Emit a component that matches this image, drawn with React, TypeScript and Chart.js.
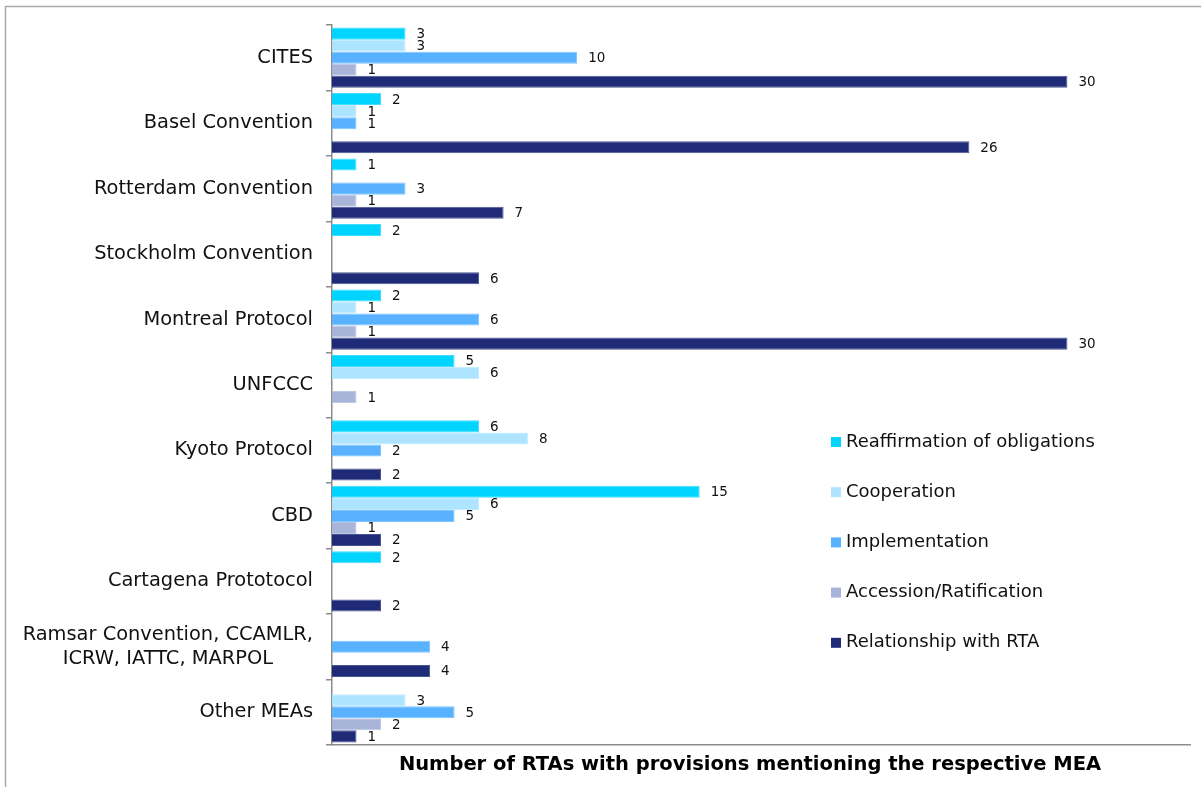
import React, { useEffect, useRef } from "react";
import { Chart, registerables } from "chart.js";

Chart.register(...registerables);

const categories: (string | string[])[] = [
  "CITES",
  "Basel Convention",
  "Rotterdam Convention",
  "Stockholm Convention",
  "Montreal Protocol",
  "UNFCCC",
  "Kyoto Protocol",
  "CBD",
  "Cartagena Prototocol",
  ["Ramsar Convention, CCAMLR,", "ICRW, IATTC, MARPOL"],
  "Other MEAs",
];

const seriesNames = [
  "Reaffirmation of obligations",
  "Cooperation",
  "Implementation",
  "Accession/Ratification",
  "Relationship with RTA",
];

const reaffirmation = [3, 2, 1, 2, 2, 5, 6, 15, 2, null, null];
const cooperation = [3, 1, null, null, 1, 6, 8, 6, null, null, 3];
const implementation = [10, 1, 3, null, 6, null, 2, 5, null, 4, 5];
const accession = [1, null, 1, null, 1, 1, null, 1, null, null, 2];
const relationship = [30, 26, 7, 6, 30, null, 2, 2, 2, 4, 1];

const xMax = 35;
const xTitle = "Number of RTAs with provisions mentioning the respective MEA";

const colors = ["#00D4FF", "#ADE4FF", "#58B2FF", "#A9B4D9", "#202B78"];
const borderColors = ["#3FDDFF", "#C4ECFF", "#7CC3FF", "#BCC5E3", "#4A5596"];

const FONT = "'DejaVu Sans', Verdana, sans-serif";

const customPlugin = {
  id: "customDraw",
  afterDatasetsDraw(chart: any) {
    const ctx = chart.ctx;
    ctx.save();
    ctx.font = `13.5px ${FONT}`;
    ctx.fillStyle = "#111";
    ctx.textAlign = "left";
    ctx.textBaseline = "middle";
    chart.data.datasets.forEach((ds: any, di: number) => {
      const meta = chart.getDatasetMeta(di);
      meta.data.forEach((bar: any, i: number) => {
        const v = ds.data[i];
        if (v == null || v === 0) return;
        ctx.fillText(String(v), bar.x + 11, bar.y + 1);
      });
    });
    ctx.restore();
  },
  afterDraw(chart: any) {
    const ctx = chart.ctx;
    const yScale = chart.scales.y;
    ctx.save();
    // frame
    ctx.strokeStyle = "#aaaaaa";
    ctx.lineWidth = 1.5;
    ctx.beginPath();
    ctx.moveTo(5.5, 787);
    ctx.lineTo(5.5, 6.5);
    ctx.lineTo(1201, 6.5);
    ctx.stroke();

    // category labels
    ctx.font = `19.4px ${FONT}`;
    ctx.fillStyle = "#111";
    ctx.textBaseline = "middle";
    categories.forEach((lab, i) => {
      const y = yScale.getPixelForValue(i);
      const rightX = 313;
      if (Array.isArray(lab)) {
        const widths = lab.map((l) => ctx.measureText(l).width);
        const maxW = Math.max(...widths);
        const cx = rightX - maxW / 2;
        const lh = 24;
        ctx.textAlign = "center";
        lab.forEach((l, k) => {
          ctx.fillText(l, cx, y + (k - (lab.length - 1) / 2) * lh);
        });
      } else {
        ctx.textAlign = "right";
        ctx.fillText(lab, rightX, y);
      }
    });

    // legend
    ctx.font = `18px ${FONT}`;
    ctx.textAlign = "left";
    const legendTop = 442;
    const legendGap = 50.2;
    chart.data.datasets.forEach((ds: any, di: number) => {
      const cy = legendTop + di * legendGap;
      ctx.fillStyle = ds.backgroundColor;
      ctx.fillRect(831, cy - 5, 10, 10);
      ctx.fillStyle = "#111";
      ctx.fillText(ds.label, 846, cy);
    });

    // x title
    ctx.font = `bold 19.5px ${FONT}`;
    ctx.textAlign = "center";
    ctx.fillStyle = "#000";
    ctx.fillText(xTitle, 750, 765);
    ctx.restore();
  },
};

export default function App() {
  const ref = useRef<HTMLCanvasElement | null>(null);
  useEffect(() => {
    if (!ref.current) return;
    const seriesData = [reaffirmation, cooperation, implementation, accession, relationship];
    const chart = new Chart(ref.current, {
      type: "bar",
      data: {
        labels: categories as any,
        datasets: seriesData.map((d, i) => ({
          label: seriesNames[i],
          data: d as any,
          backgroundColor: colors[i],
          borderColor: borderColors[i],
          borderWidth: 1,
          barPercentage: 1.0,
          categoryPercentage: 0.92,
        })),
      },
      options: {
        indexAxis: "y",
        responsive: false,
        animation: false,
        devicePixelRatio: 1,
        layout: { padding: { left: 0, top: 25, right: 11, bottom: 42 } },
        plugins: {
          legend: { display: false },
          tooltip: { enabled: false },
          title: { display: false },
        },
        scales: {
          x: {
            min: 0,
            max: xMax,
            ticks: { display: false },
            grid: { display: false },
            border: { display: true, color: "#8c8c8c", width: 1.5 },
            afterFit: (s: any) => {
              s.height = 0;
            },
          },
          y: {
            ticks: { display: false },
            grid: {
              display: true,
              drawOnChartArea: false,
              drawTicks: true,
              tickLength: 6,
              offset: true,
              color: "#8c8c8c",
              lineWidth: 1.5,
            },
            border: { display: true, color: "#8c8c8c", width: 1.5 },
            afterFit: (s: any) => {
              s.width = 332;
            },
          },
        },
      },
      plugins: [customPlugin],
    });
    return () => chart.destroy();
  }, []);
  return (
    <div style={{ position: "absolute", left: 0, top: 0, width: 1201, height: 787, background: "#fff" }}>
      <canvas ref={ref} width={1201} height={787} style={{ display: "block" }} />
    </div>
  );
}
